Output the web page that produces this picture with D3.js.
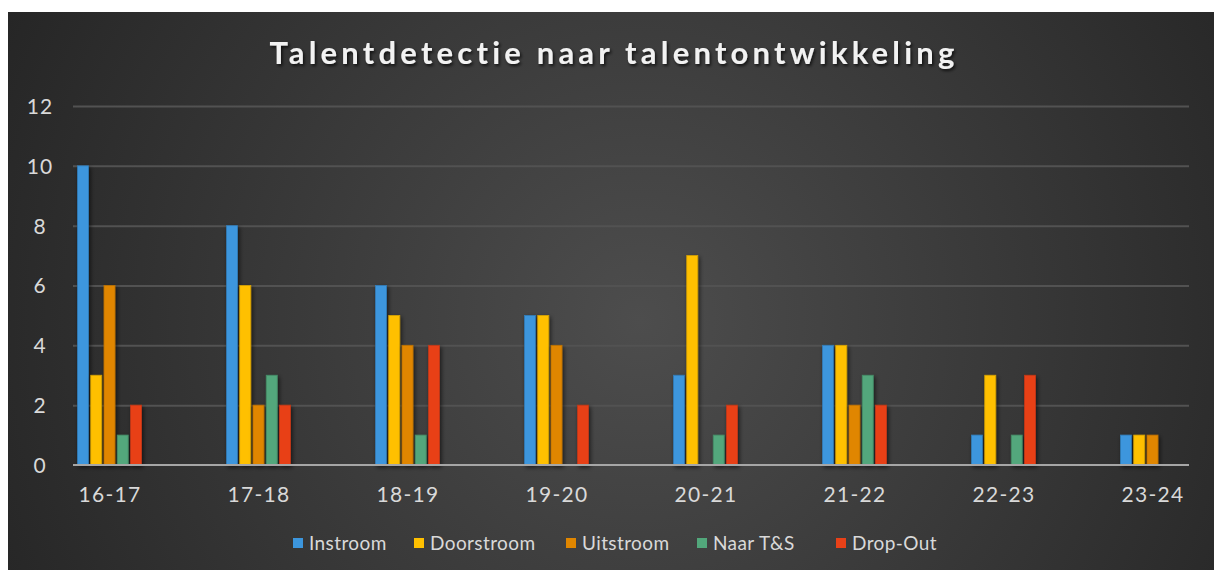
<!DOCTYPE html>
<html>
<head>
<meta charset="utf-8">
<script src="https://cdn.jsdelivr.net/npm/d3@7"></script>
<style>
  body { margin: 0; background: #fff; }
  svg { display: block; }
  .tick text { fill: #d9d9d9; font-family: Lato, "Open Sans", sans-serif; }
</style>
</head>
<body>
<svg id="chart" width="1214" height="570"></svg>
<script>
// Data
var categories = ['16-17', '17-18', '18-19', '19-20', '20-21', '21-22', '22-23', '23-24'];
var seriesNames = ['Instroom', 'Doorstroom', 'Uitstroom', 'Naar T&S', 'Drop-Out'];
var instroom   = [10, 8, 6, 5, 3, 4, 1, 1];
var doorstroom = [3, 6, 5, 5, 7, 4, 3, 1];
var uitstroom  = [6, 2, 4, 4, 0, 2, 0, 1];
var naarTS     = [1, 3, 1, 0, 1, 3, 1, 0];
var dropOut    = [2, 2, 4, 2, 2, 2, 3, 0];
var yTicks = [0, 2, 4, 6, 8, 10, 12];
var colors = ['#3c96dd', '#ffc000', '#e08600', '#52a77b', '#e84118'];

var seriesValues = [instroom, doorstroom, uitstroom, naarTS, dropOut];

/*************************************************/

var svg = d3.select('#chart');
var defs = svg.append('defs');

var grad = defs.append('radialGradient').attr('id', 'bg').attr('gradientUnits', 'userSpaceOnUse')
  .attr('cx', 640).attr('cy', 320).attr('r', 700);
grad.append('stop').attr('offset', '0%').attr('stop-color', '#4d4d4d');
grad.append('stop').attr('offset', '100%').attr('stop-color', '#262626');

var shadow = defs.append('filter').attr('id', 'shadow').attr('x', '-50%').attr('y', '-20%').attr('width', '200%').attr('height', '140%');
shadow.append('feDropShadow').attr('dx', 1.5).attr('dy', 2).attr('stdDeviation', 2).attr('flood-color', '#000').attr('flood-opacity', 0.6);

var tshadow = defs.append('filter').attr('id', 'tshadow');
tshadow.append('feDropShadow').attr('dx', 1.5).attr('dy', 2).attr('stdDeviation', 1.5).attr('flood-color', '#000').attr('flood-opacity', 0.7);

svg.append('rect').attr('x', 8).attr('y', 12).attr('width', 1206).attr('height', 558).attr('fill', 'url(#bg)');

// Title
svg.append('text').attr('x', 614).attr('y', 64).attr('text-anchor', 'middle')
  .attr('filter', 'url(#tshadow)')
  .style('font-family', 'Lato, "Open Sans", sans-serif').style('font-weight', 'bold')
  .style('font-size', '31px').style('letter-spacing', '4.2px').style('fill', '#f2f2f2')
  .text('Talentdetectie naar talentontwikkeling');

// Scales
var plotLeft = 73, plotRight = 1189, plotTop = 106, plotBottom = 465;
var x = d3.scalePoint().domain(categories).range([plotLeft, plotRight]).padding(0.245);
var xs = d3.scaleBand().domain(seriesNames).range([-32, 32]).paddingInner(0.17);
var y = d3.scaleLinear().domain([0, 12]).range([plotBottom, plotTop]);

// Gridlines
var grid = svg.append('g').attr('transform', 'translate(' + plotLeft + ',0)')
  .call(d3.axisLeft(y).tickValues(yTicks.slice(1)).tickSize(-(plotRight - plotLeft)).tickFormat(''));
grid.select('.domain').remove();
grid.selectAll('.tick line').attr('stroke', '#525252').attr('stroke-width', 2);

// Y labels
var yAxis = svg.append('g').attr('transform', 'translate(40,0)')
  .call(d3.axisLeft(y).tickValues(yTicks).tickSize(0).tickPadding(0));
yAxis.select('.domain').remove();
yAxis.selectAll('.tick text').attr('text-anchor', 'middle').attr('dy', '0.35em').style('font-size', '21px').style('letter-spacing', '1px');

// Bars
var groups = svg.append('g').selectAll('g').data(seriesNames).join('g')
  .attr('fill', function(d, i){ return colors[i] })
  .attr('stroke', function(d, i){ return d3.color(colors[i]).darker(0.5) })
  .attr('filter', 'url(#shadow)');

groups.selectAll('rect').data(function(d, i){
    return categories.map(function(c, j){ return { cat: c, s: d, v: seriesValues[i][j] } }).filter(function(e){ return e.v > 0 });
  }).join('rect')
  .attr('x', function(d){ return x(d.cat) + xs(d.s) })
  .attr('y', function(d){ return y(d.v) })
  .attr('width', xs.bandwidth())
  .attr('height', function(d){ return y(0) - y(d.v) })
  .attr('stroke-width', 0.8);

// X axis
var xAxis = svg.append('g').attr('transform', 'translate(0,' + plotBottom + ')')
  .call(d3.axisBottom(x).tickSize(0).tickPadding(22));
xAxis.select('.domain').attr('stroke', '#a6a6a6').attr('stroke-width', 2.2).attr('d', 'M' + plotLeft + ',0H' + plotRight);
xAxis.selectAll('.tick text').style('font-size', '21px').style('letter-spacing', '1.3px');

// Legend
var legendX = [293, 414, 566, 697, 836];
var legend = svg.append('g').selectAll('g').data(seriesNames).join('g')
  .attr('transform', function(d, i){ return 'translate(' + legendX[i] + ',538)' });
legend.append('rect').attr('width', 10).attr('height', 10).attr('fill', function(d, i){ return colors[i] });
legend.append('text').attr('x', 16).attr('y', 12)
  .style('font-family', 'Lato, "Open Sans", sans-serif').style('font-size', '19px').style('letter-spacing', '0.4px').style('fill', '#d9d9d9')
  .text(function(d){ return d });
</script>
</body>
</html>
